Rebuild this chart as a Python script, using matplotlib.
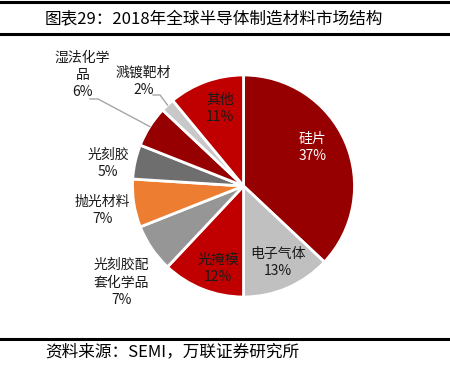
import numpy as np
import matplotlib.pyplot as plt

plt.rcParams['font.family'] = ['Noto Sans CJK SC', 'DejaVu Sans']

labels = ['硅片', '电子气体', '光掩模', '光刻胶配\n套化学品', '抛光材料',
          '光刻胶', '湿法化学\n品', '溅镀靶材', '其他']
shares = [37, 13, 12, 7, 7, 5, 6, 2, 11]
colors = ['#960000', '#C0C0C0', '#C00000', '#969696', '#ED7D31',
          '#6E6E6E', '#960000', '#C8C8C8', '#C00000']
text_colors = ['white'] + ['#1a1a1a'] * 8
# label centres in pie units (radius = 1)
label_pos = [(0.62, 0.35), (0.31, -0.69), (-0.23, -0.74), (-1.10, -0.87),
             (-1.27, -0.22), (-1.22, 0.20), (-1.45, 1.00), (-0.90, 0.94),
             (-0.21, 0.70)]
leader = {6: (-1.383, 0.784, -1.311), 7: (-0.815, 0.820, -0.752)}

W, H = 450, 383
fig = plt.figure(figsize=(W / 100, H / 100), dpi=100)

cx, cy, r = 243.5, 186, 111
ax = fig.add_axes([(cx - r) / W, (H - cy - r) / H, 2 * r / W, 2 * r / H])
wedges, _ = ax.pie(shares, colors=colors, startangle=90, counterclock=False,
                   radius=1, wedgeprops=dict(edgecolor='white', linewidth=2))
ax.set_xlim(-1, 1)
ax.set_ylim(-1, 1)
ax.set_aspect('equal')
ax.axis('off')

for i, (lab, v) in enumerate(zip(labels, shares)):
    x, y = label_pos[i]
    ax.text(x, y, f'{lab}\n{v}%', ha='center', va='center', fontsize=10,
            color=text_colors[i], linespacing=1.3, clip_on=False)

for i, (x0, y0, x1) in leader.items():
    w = wedges[i]
    mid = np.deg2rad((w.theta1 + w.theta2) / 2)
    ax.plot([x0, x1, np.cos(mid)], [y0, y0, np.sin(mid)], color='#A6A6A6',
            lw=1, clip_on=False)

# title band and footer
for yy, lw in [(2, 2.2), (34, 2.2), (339, 2.2)]:
    fig.add_artist(plt.Line2D([0, 1], [1 - yy / H, 1 - yy / H], color='black', lw=lw))
fig.text(45 / W, 1 - 20 / H, '图表29：2018年全球半导体制造材料市场结构',
         fontsize=12, va='center', ha='left')
fig.text(45 / W, 1 - 352 / H, '资料来源：SEMI，万联证券研究所',
         fontsize=12, va='center', ha='left', style='italic')

fig.savefig('out.png', dpi=100)
